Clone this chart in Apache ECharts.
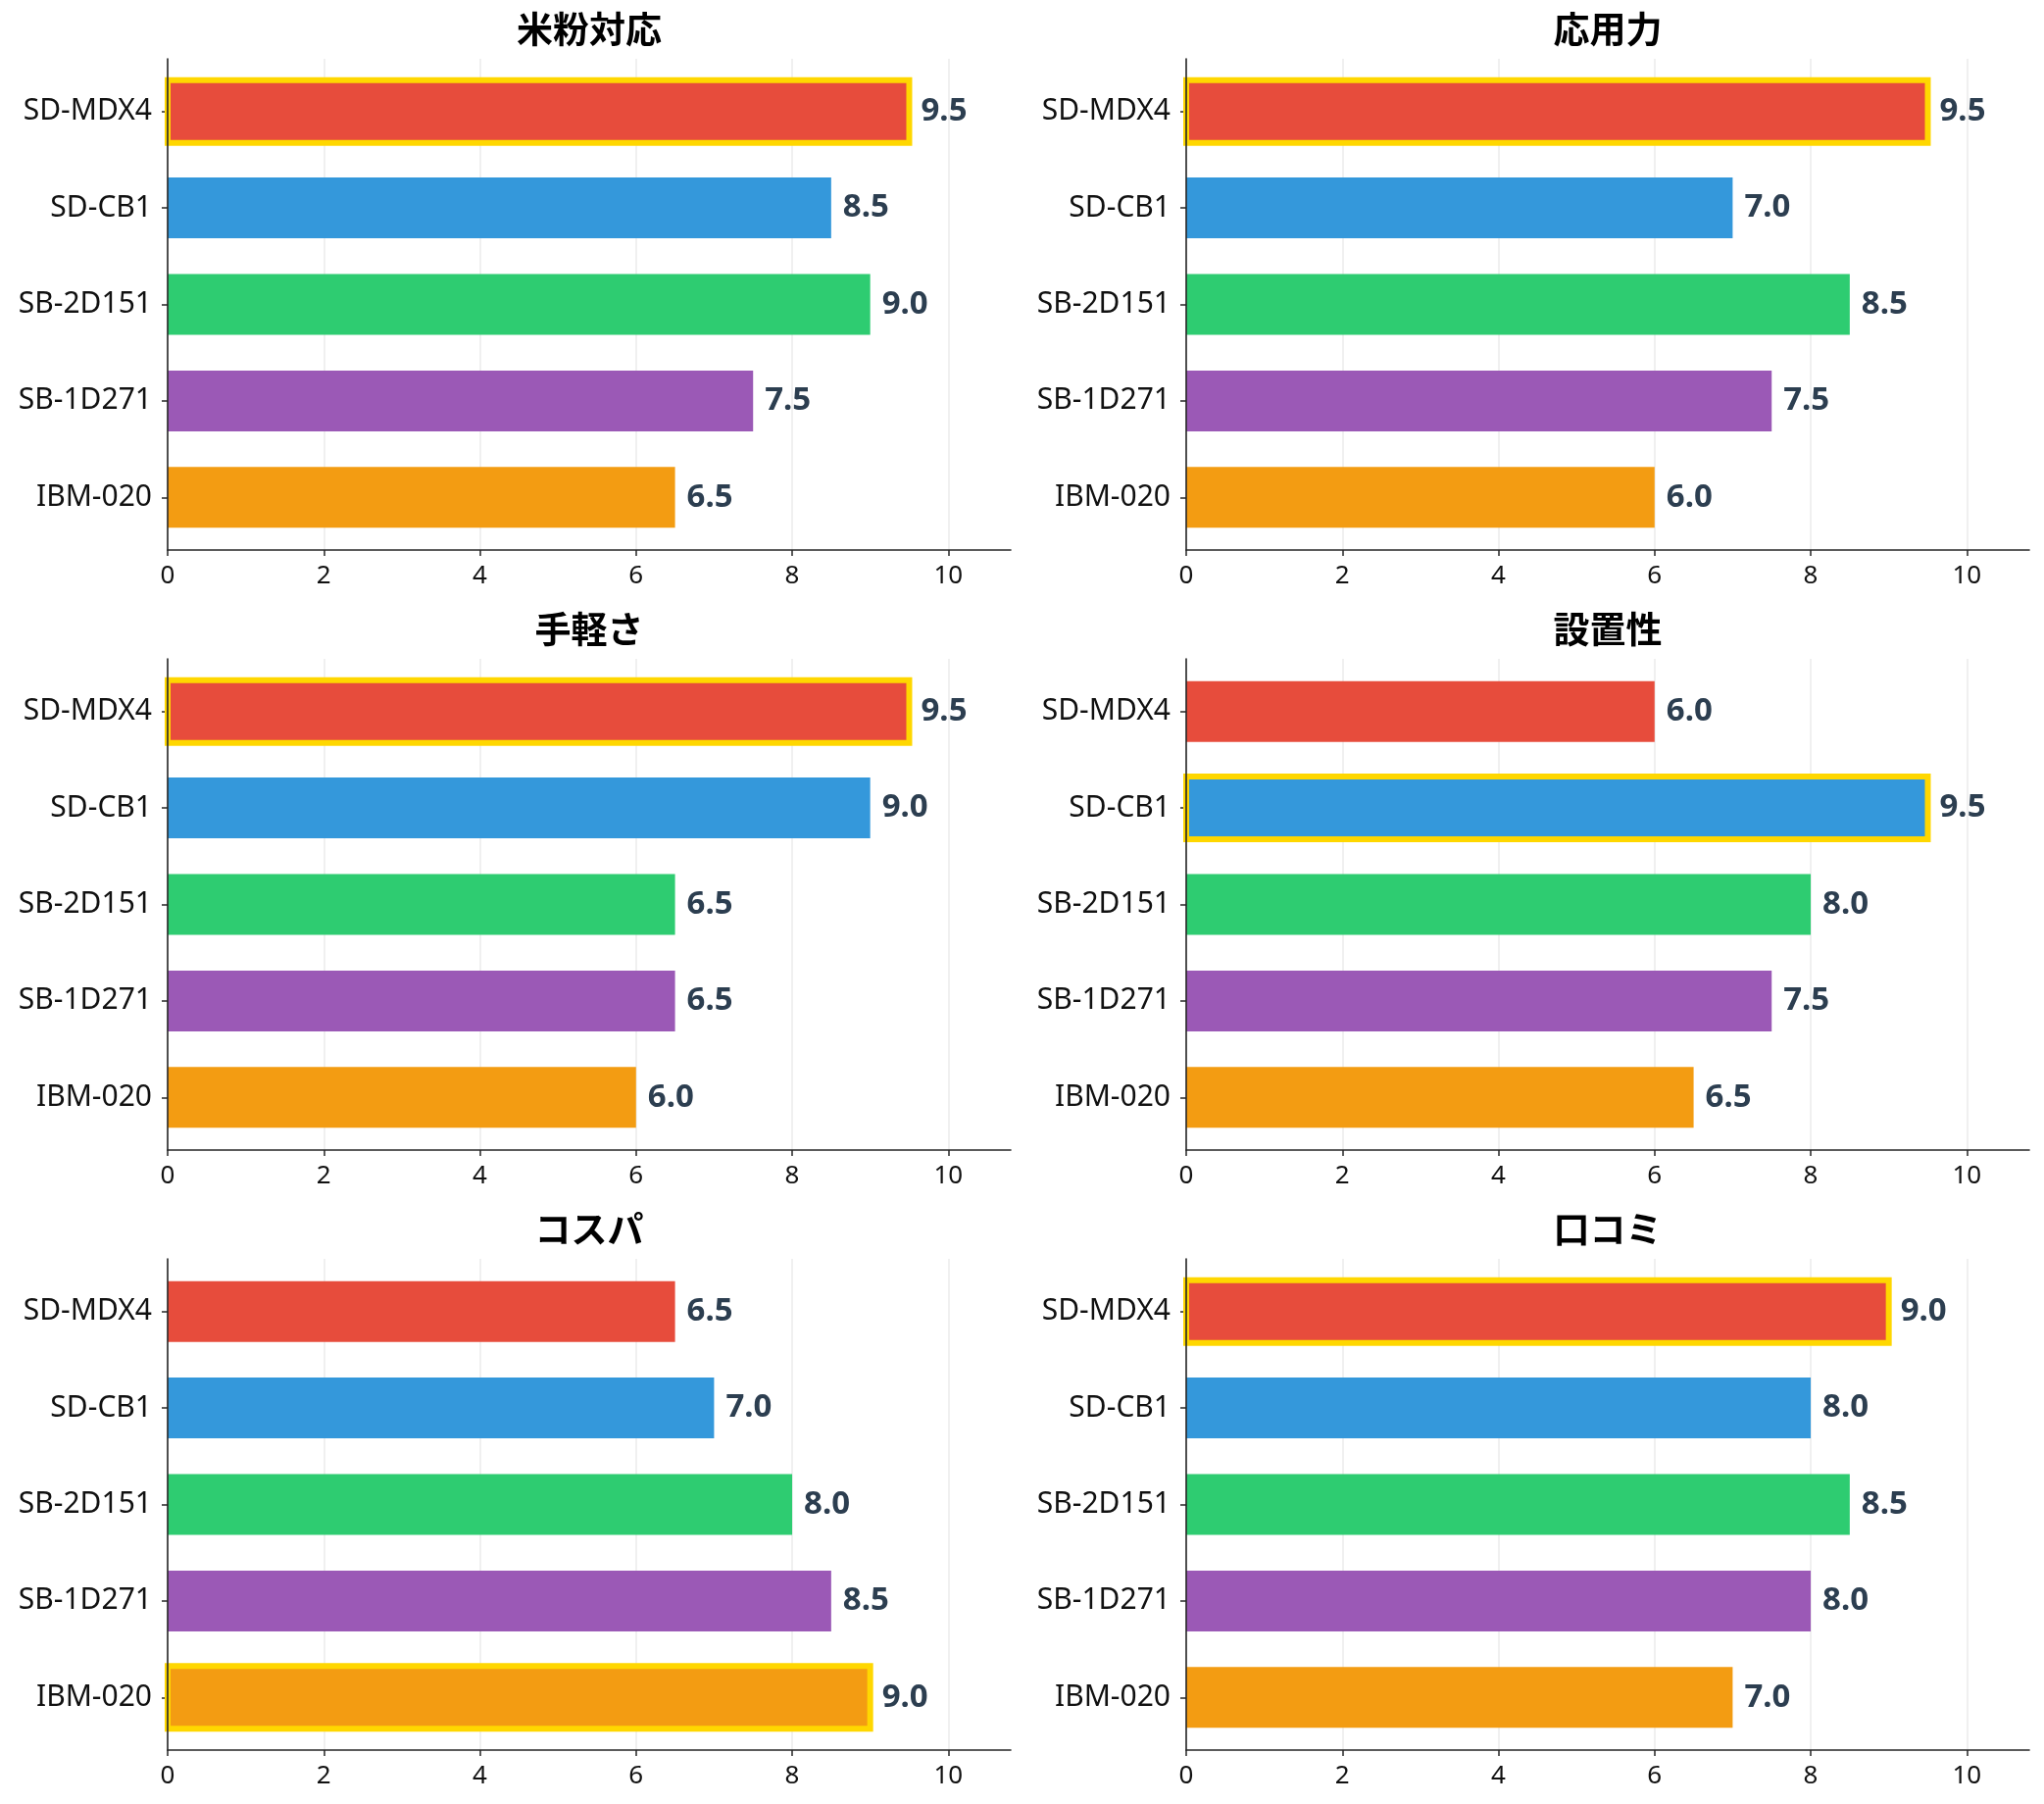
<!DOCTYPE html>
<html>
<head>
<meta charset="utf-8">
<script src="https://cdn.jsdelivr.net/npm/echarts@6/dist/echarts.min.js"></script>
<style>
  html, body { margin: 0; padding: 0; background: #fff; }
  #chart { width: 2085px; height: 1840px; }
</style>
</head>
<body>
<div id="chart"></div>
<script>
// 製品名と評価項目
const products = ['SD-MDX4', 'SD-CB1', 'SB-2D151', 'SB-1D271', 'IBM-020'];
const criteria = ['米粉対応', '応用力', '手軽さ', '設置性', 'コスパ', '口コミ'];

// 各項目のスコア (products の順)
const scoreRice = [9.5, 8.5, 9.0, 7.5, 6.5];
const scoreApply = [9.5, 7.0, 8.5, 7.5, 6.0];
const scoreEase = [9.5, 9.0, 6.5, 6.5, 6.0];
const scoreInstall = [6.0, 9.5, 8.0, 7.5, 6.5];
const scoreCost = [6.5, 7.0, 8.0, 8.5, 9.0];
const scoreReview = [9.0, 8.0, 8.5, 8.0, 7.0];
const scores = [scoreRice, scoreApply, scoreEase, scoreInstall, scoreCost, scoreReview];

const barColors = ['#e74c3c', '#3498db', '#2ecc71', '#9b59b6', '#f39c12'];
const xTicks = [0, 2, 4, 6, 8, 10];
const xMax = 10.8;

// レイアウト
const colLeft = [171, 1210];
const rowTop = [60, 672, 1284];
const plotW = 860;
const plotH = 501;
const catPad = 0.545;                       // カテゴリ軸の余白 (単位: カテゴリ間隔)
const pxPerCat = plotH / (4 + 2 * catPad);
const bandPad = (catPad - 0.5) * pxPerCat;
const bandH = 5 * pxPerCat;

const latin = "'Noto Sans', 'Noto Sans CJK JP', sans-serif";
const axisColor = '#262626';

const option = {
  animation: false,
  backgroundColor: '#ffffff',
  title: [],
  grid: [],
  xAxis: [],
  yAxis: [],
  series: []
};

criteria.forEach(function (name, k) {
  const col = k % 2;
  const row = Math.floor(k / 2);
  const left = colLeft[col];
  const top = rowTop[row];
  const vals = scores[k];
  const maxV = Math.max.apply(null, vals);
  const maxIdx = vals.indexOf(maxV);

  option.title.push({
    text: name,
    left: left + plotW / 2,
    top: top - 48,
    textAlign: 'center',
    padding: 0,
    textStyle: {
      fontFamily: "'Noto Sans CJK JP', sans-serif",
      fontWeight: 'bold',
      fontSize: 37,
      lineHeight: 36,
      color: '#000'
    }
  });

  // 枠・目盛り用のグリッド
  option.grid.push({ left: left, top: top, width: plotW, height: plotH });
  // バー用のグリッド
  option.grid.push({ left: left, top: top + bandPad, width: plotW, height: bandH });

  option.xAxis.push({
    gridIndex: 2 * k,
    type: 'value',
    min: 0,
    max: xMax,
    interval: 2,
    axisLine: { show: true, onZero: false, lineStyle: { color: axisColor, width: 1.6 } },
    axisTick: { show: true, length: 6, customValues: xTicks, lineStyle: { color: axisColor, width: 1.5 } },
    axisLabel: { customValues: xTicks, margin: 14, fontSize: 26, fontFamily: latin, color: '#111' },
    splitLine: { show: true, lineStyle: { color: '#ebebeb', width: 1.5 } }
  });
  option.yAxis.push({
    gridIndex: 2 * k,
    type: 'value',
    min: 0,
    max: 1,
    z: 3,
    axisLine: { show: true, onZero: false, lineStyle: { color: axisColor, width: 1.6 } },
    axisTick: { show: false },
    axisLabel: { show: false },
    splitLine: { show: false }
  });

  option.xAxis.push({ gridIndex: 2 * k + 1, type: 'value', min: 0, max: xMax, show: false });
  option.yAxis.push({
    gridIndex: 2 * k + 1,
    type: 'category',
    data: products,
    inverse: true,
    axisLine: { show: false },
    axisTick: { show: true, alignWithLabel: true, length: 6, lineStyle: { color: axisColor, width: 1.5 } },
    axisLabel: { margin: 16, fontSize: 30, fontFamily: latin, color: '#111' },
    splitLine: { show: false }
  });

  option.series.push({
    type: 'bar',
    name: name,
    xAxisIndex: 2 * k + 1,
    yAxisIndex: 2 * k + 1,
    barWidth: '63%',
    data: vals.map(function (v, i) {
      return { value: v, itemStyle: { color: barColors[i] } };
    }),
    label: {
      show: true,
      position: 'right',
      distance: 12,
      formatter: function (p) { return p.value.toFixed(1); },
      fontFamily: latin,
      fontWeight: 'bold',
      fontSize: 33,
      color: '#2c3e50'
    }
  });

  // 最高スコアのバーを金色の枠で強調 (枠線はバーの縁に中心を合わせる)
  option.series.push({
    type: 'custom',
    name: name + '-best',
    xAxisIndex: 2 * k + 1,
    yAxisIndex: 2 * k + 1,
    z: 3,
    encode: { x: 0, y: 1 },
    data: [[maxV, maxIdx]],
    renderItem: function (params, api) {
      const start = api.coord([0, api.value(1)]);
      const end = api.coord([api.value(0), api.value(1)]);
      const h = api.size([0, 1])[1] * 0.65;
      return {
        type: 'rect',
        shape: { x: start[0], y: start[1] - h / 2, width: end[0] - start[0], height: h },
        style: { fill: 'none', stroke: '#FFD700', lineWidth: 6 }
      };
    }
  });
});

const chart = echarts.init(document.getElementById('chart'));
chart.setOption(option);
window.addEventListener('resize', function () { chart.resize(); });
</script>
</body>
</html>
